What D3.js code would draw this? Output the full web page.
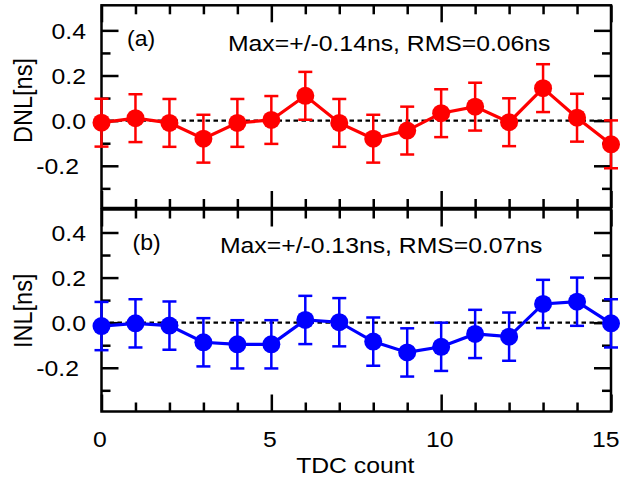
<!DOCTYPE html>
<html>
<head>
<meta charset="utf-8">
<script src="https://cdn.jsdelivr.net/npm/d3@7"></script>
<style>
  html, body { margin: 0; padding: 0; background: #ffffff; }
  svg { display: block; }
  text { font-family: "Liberation Sans", Arial, Helvetica, sans-serif; fill: #000; }
</style>
</head>
<body>
<div id="chart"></div>
<script>
// ---------- data ----------
const tdcCount = [0, 1, 2, 3, 4, 5, 6, 7, 8, 9, 10, 11, 12, 13, 14, 15];
const dnlValues = [-0.009, 0.011, -0.010, -0.080, -0.010, 0.003, 0.110, -0.010, -0.080, -0.044, 0.033, 0.062, -0.007, 0.144, 0.013, -0.105];
const dnlErrors = [0.106, 0.106, 0.106, 0.106, 0.106, 0.106, 0.106, 0.106, 0.106, 0.106, 0.106, 0.106, 0.106, 0.106, 0.106, 0.106];
const inlValues = [-0.015, -0.003, -0.013, -0.087, -0.096, -0.096, 0.012, 0.002, -0.084, -0.132, -0.107, -0.050, -0.062, 0.083, 0.093, -0.003];
const inlErrors = [0.107, 0.107, 0.107, 0.107, 0.107, 0.107, 0.107, 0.107, 0.107, 0.107, 0.107, 0.107, 0.107, 0.107, 0.107, 0.107];
const xDomain = [0, 15];
const xMajorTicks = [0, 5, 10, 15];
const xTickLabels = ["0", "5", "10", "15"];
const xMinorTicks = [1, 2, 3, 4, 6, 7, 8, 9, 11, 12, 13, 14];
const yMajorTicks = [-0.2, 0.0, 0.2, 0.4];
const yTickLabels = ["-0.2", "0.0", "0.2", "0.4"];
const yMinorTicks = [-0.3, -0.1, 0.1, 0.3];
const dnlDomain = [-0.387, 0.511];
const inlDomain = [-0.394, 0.502];
const xTitle = "TDC count";

// ---------- layout ----------
const W = 620, H = 482;
const xLeft = 101.5, xRight = 611;
const sx = 1.1;           // horizontal text stretch of reference font
const fontSize = 22.5;
const majorLen = 17, minorLen = 9;
const lw = 2.5;

const svg = d3.select("#chart").append("svg")
  .attr("width", W).attr("height", H)
  .attr("viewBox", `0 0 ${W} ${H}`);

const x = d3.scaleLinear().domain(xDomain).range([xLeft, xRight]);

const panels = [
  { top: 5.3, bottom: 208, domain: dnlDomain, values: dnlValues, errors: dnlErrors,
    color: "#ff0000", tag: "(a)", tagPos: [127, 45.5],
    note: "Max=+/-0.14ns, RMS=0.06ns", notePos: [228, 50.5],
    title: "DNL[ns]", titlePos: [31.7, 100.5] },
  { top: 209.5, bottom: 411.5, domain: inlDomain, values: inlValues, errors: inlErrors,
    color: "#0000ff", tag: "(b)", tagPos: [132.5, 250],
    note: "Max=+/-0.13ns, RMS=0.07ns", notePos: [220, 253],
    title: "INL[ns]", titlePos: [31.7, 310.8] }
];

function styleTicks(sel) {
  sel.select(".domain").remove();
  sel.selectAll(".tick line").attr("stroke", "#000").attr("stroke-width", lw);
}

panels.forEach((p, pi) => {
  const y = d3.scaleLinear().domain(p.domain).range([p.bottom, p.top]);
  const g = svg.append("g");

  // frame
  g.append("rect")
    .attr("x", xLeft).attr("y", p.top)
    .attr("width", xRight - xLeft).attr("height", p.bottom - p.top)
    .attr("fill", "none").attr("stroke", "#000").attr("stroke-width", lw);

  // inward ticks: left & right
  g.append("g").attr("transform", `translate(${xLeft},0)`)
    .call(d3.axisRight(y).tickValues(yMajorTicks).tickSize(majorLen).tickFormat(""))
    .call(styleTicks);
  g.append("g").attr("transform", `translate(${xLeft},0)`)
    .call(d3.axisRight(y).tickValues(yMinorTicks).tickSize(minorLen).tickFormat(""))
    .call(styleTicks);
  g.append("g").attr("transform", `translate(${xRight},0)`)
    .call(d3.axisLeft(y).tickValues(yMajorTicks).tickSize(majorLen).tickFormat(""))
    .call(styleTicks);
  g.append("g").attr("transform", `translate(${xRight},0)`)
    .call(d3.axisLeft(y).tickValues(yMinorTicks).tickSize(minorLen).tickFormat(""))
    .call(styleTicks);
  // inward ticks: top & bottom
  g.append("g").attr("transform", `translate(0,${p.top})`)
    .call(d3.axisBottom(x).tickValues(xMajorTicks).tickSize(majorLen).tickFormat(""))
    .call(styleTicks);
  g.append("g").attr("transform", `translate(0,${p.top})`)
    .call(d3.axisBottom(x).tickValues(xMinorTicks).tickSize(minorLen).tickFormat(""))
    .call(styleTicks);
  g.append("g").attr("transform", `translate(0,${p.bottom})`)
    .call(d3.axisTop(x).tickValues(xMajorTicks).tickSize(majorLen).tickFormat(""))
    .call(styleTicks);
  g.append("g").attr("transform", `translate(0,${p.bottom})`)
    .call(d3.axisTop(x).tickValues(xMinorTicks).tickSize(minorLen).tickFormat(""))
    .call(styleTicks);

  // y tick labels
  const yl = g.append("g").attr("transform", `translate(${xLeft},0)`)
    .call(d3.axisLeft(y).tickValues(yMajorTicks).tickSize(0)
      .tickFormat((d, i) => yTickLabels[i]));
  yl.select(".domain").remove();
  yl.selectAll(".tick line").remove();
  yl.selectAll(".tick text")
    .attr("x", null).attr("dy", null).attr("y", null)
    .attr("fill", "#000")
    .style("font-size", fontSize + "px")
    .attr("text-anchor", "end")
    .attr("dominant-baseline", "central")
    .attr("transform", d => `translate(${d < 0 ? -22.5 : -15.5},0.5) scale(${sx},1)`);

  // y title
  g.append("text")
    .attr("transform", `translate(${p.titlePos[0]},${p.titlePos[1]}) rotate(-90) scale(1,1.12)`)
    .attr("text-anchor", "middle")
    .style("font-size", "23.5px")
    .text(p.title);

  // x tick labels on bottom panel only
  if (pi === panels.length - 1) {
    const xl = g.append("g").attr("transform", `translate(0,${p.bottom})`)
      .call(d3.axisBottom(x).tickValues(xMajorTicks).tickSize(0)
        .tickFormat((d, i) => xTickLabels[i]));
    xl.select(".domain").remove();
    xl.selectAll(".tick line").remove();
    const lastTick = xMajorTicks[xMajorTicks.length - 1];
    xl.selectAll(".tick text")
      .attr("x", null).attr("y", null).attr("dy", null)
      .attr("fill", "#000")
      .style("font-size", fontSize + "px")
      .attr("text-anchor", d => d === lastTick ? "end" : "middle")
      .attr("transform", d => d === lastTick
        ? `translate(${W - 1 - x(lastTick)},${447 - p.bottom}) scale(${sx},1)`
        : `translate(-2,${447 - p.bottom}) scale(${sx},1)`);

    g.append("text")
      .attr("transform", `translate(${(xLeft + xRight) / 2 - 1},473) scale(${sx},1)`)
      .attr("text-anchor", "middle")
      .style("font-size", fontSize + "px")
      .text(xTitle);
  }

  // zero reference dashed line
  g.append("line")
    .attr("x1", xLeft).attr("x2", xRight)
    .attr("y1", y(0)).attr("y2", y(0))
    .attr("stroke", "#000").attr("stroke-width", 2.4)
    .attr("stroke-dasharray", "4.5,3.5");

  const pts = tdcCount.map((c, i) => ({ c, v: p.values[i], e: p.errors[i] }));

  // error bars
  const eb = g.append("g").attr("stroke", p.color).attr("stroke-width", lw).attr("fill", "none");
  pts.forEach(d => {
    const cx = x(d.c), y1 = y(d.v + d.e), y2 = y(d.v - d.e);
    eb.append("line").attr("x1", cx).attr("x2", cx).attr("y1", y1).attr("y2", y2);
    eb.append("line").attr("x1", cx - 7).attr("x2", cx + 7).attr("y1", y1).attr("y2", y1);
    eb.append("line").attr("x1", cx - 7).attr("x2", cx + 7).attr("y1", y2).attr("y2", y2);
  });

  // connecting line
  g.append("path")
    .datum(pts)
    .attr("fill", "none").attr("stroke", p.color).attr("stroke-width", 3.2)
    .attr("d", d3.line().x(d => x(d.c)).y(d => y(d.v)));

  // markers
  g.append("g").selectAll("circle").data(pts).join("circle")
    .attr("cx", d => x(d.c)).attr("cy", d => y(d.v))
    .attr("r", 9).attr("fill", p.color);

  // panel tag and annotation
  g.append("text")
    .attr("transform", `translate(${p.tagPos[0]},${p.tagPos[1]}) scale(${sx * 0.93},1)`)
    .style("font-size", fontSize + "px")
    .text(p.tag);
  g.append("text")
    .attr("transform", `translate(${p.notePos[0]},${p.notePos[1]}) scale(${sx},1)`)
    .style("font-size", fontSize + "px")
    .text(p.note);
});
</script>
</body>
</html>
